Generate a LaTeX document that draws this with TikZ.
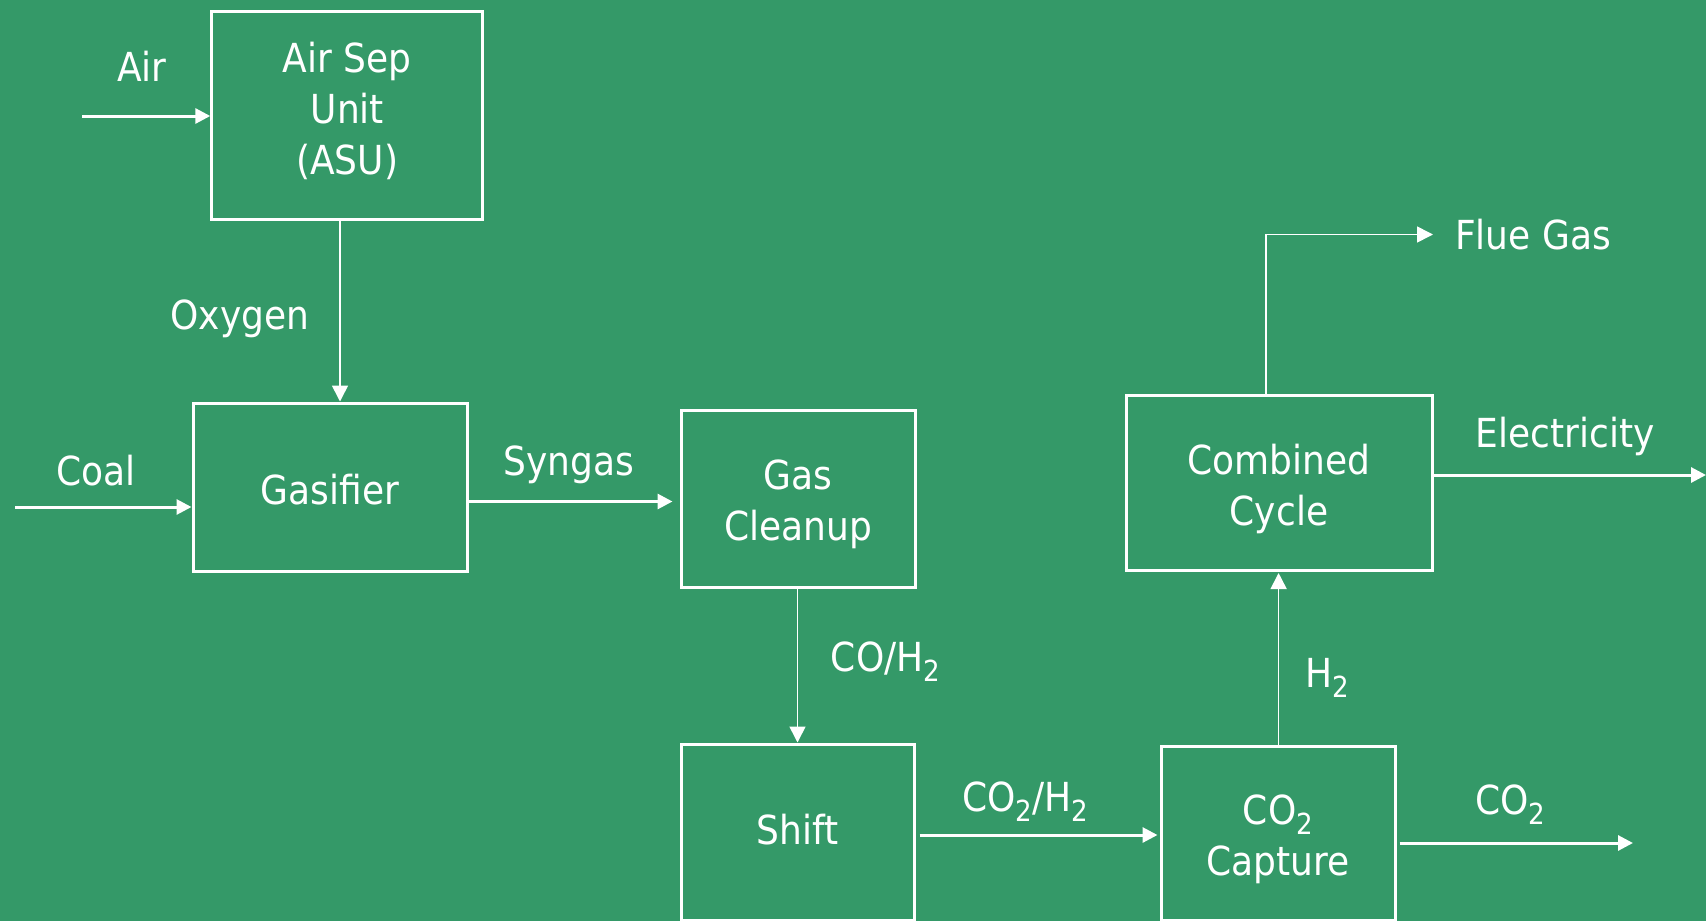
\documentclass[tikz,border=0pt]{standalone}
\usepackage{fontspec}
\setmainfont{DejaVu Sans Condensed}
\usetikzlibrary{arrows.meta}
\definecolor{bg}{RGB}{52,153,104}
\newcommand\lowtwo[1]{\raisebox{-10.5pt}{\fontsize{29}{29}\selectfont #1}}
\begin{document}
\begin{tikzpicture}[x=1pt,y=-1pt,
  box/.style={draw=white,line width=3pt,rectangle,inner sep=0pt},
  txt/.style={align=center,text=white,font=\fontsize{40}{51}\selectfont,inner sep=0pt},
  lbl/.style={text=white,font=\fontsize{40}{51}\selectfont,inner sep=0pt},
  flowthick/.style={draw=white,line width=3pt,-{Triangle[length=15pt,width=15pt]}},
  flowthin/.style={draw=white,line width=1.6pt,-{Triangle[length=16pt,width=16pt]}}]
\fill[bg] (0,0) rectangle (1706,921);
\useasboundingbox (0,0) rectangle (1706,921);
\clip (0,0) rectangle (1706,921);
% boxes
\node[box,minimum width=271pt,minimum height=208pt] (asu) at (347.3,115) {};
\node[box,minimum width=274pt,minimum height=168pt] (gas) at (330,487) {};
\node[box,minimum width=234pt,minimum height=177pt] (clean) at (798,499) {};
\node[box,minimum width=233pt,minimum height=176pt] (shift) at (797.5,832) {};
\node[box,minimum width=234pt,minimum height=174pt] (capture) at (1278,833) {};
\node[box,minimum width=306pt,minimum height=175pt] (cc) at (1279,483) {};
% box texts
\node[txt] (asut) at ([yshift=4.5pt]asu.center) {Air Sep\\ Unit\\(ASU)};
\node[txt] (gast) at ([yshift=-3pt]gas.center) {Gasifier};
\node[txt] (cleant) at ([yshift=-5.5pt]clean.center) {Gas\\Cleanup};
\node[txt] (shiftt) at ([yshift=2pt]shift.center) {Shift};
\node[txt] (capturet) at ([yshift=-6pt]capture.center) {CO\lowtwo{2}\\Capture};
\node[txt] (cct) at ([yshift=-5.5pt]cc.center) {Combined\\Cycle};
% free ends
\coordinate (airin) at (82,116);
\coordinate (coalin) at (15,507);
\coordinate (ox) at (340,0);
\coordinate (syn) at (0,501.5);
\coordinate (coh) at (797.5,0);
\coordinate (coth) at (0,835);
\coordinate (hx) at (1278.6,0);
\coordinate (fluex) at (1266,0);
\coordinate (flueend) at (1433,234.5);
\coordinate (elecy) at (0,475);
\coordinate (elecend) at (1706,475);
\coordinate (co2end) at (1633,843);
% connectors
\draw[flowthick] (airin) -- (airin -| asu.west);
\draw[flowthick] (coalin) -- (coalin -| gas.west);
\draw[flowthin] (asu.south -| ox) -- (gas.north -| ox);
\draw[flowthick,shorten >=7pt] (gas.east |- syn) -- (clean.west |- syn);
\draw[flowthin] (clean.south -| coh) -- (shift.north -| coh);
\draw[flowthick,shorten <=4pt,shorten >=2pt] (shift.east |- coth) -- (capture.west |- coth);
\draw[flowthin,shorten >=1pt] (capture.north -| hx) -- (cc.south -| hx);
\draw[flowthin] (cc.north -| fluex) |- (flueend);
\draw[flowthick] (cc.east |- elecy) -- (elecend);
\draw[flowthick,shorten <=3pt] (capture.east |- co2end) -- (co2end);
% labels
\node[lbl,anchor=base] (lair) at (142,81.5) {Air};
\node[lbl,anchor=base] (loxy) at (240,329) {Oxygen};
\node[lbl,anchor=base] (lcoal) at (96,485) {Coal};
\node[lbl,anchor=base] (lsyn) at (568.7,475) {Syngas};
\node[lbl,anchor=base west] (lcoh) at (830.7,671) {CO/H\lowtwo{2}};
\node[lbl,anchor=base west] (lcoth) at (962,811) {CO\lowtwo{2}/H\lowtwo{2}};
\node[lbl,anchor=base west] (lh) at (1305.6,687) {H\lowtwo{2}};
\node[lbl,anchor=base west] (lflue) at (1455,249) {Flue Gas};
\node[lbl,anchor=base] (lelec) at (1565,447) {Electricity};
\node[lbl,anchor=base west] (lco2) at (1475,814) {CO\lowtwo{2}};
\end{tikzpicture}
\end{document}
